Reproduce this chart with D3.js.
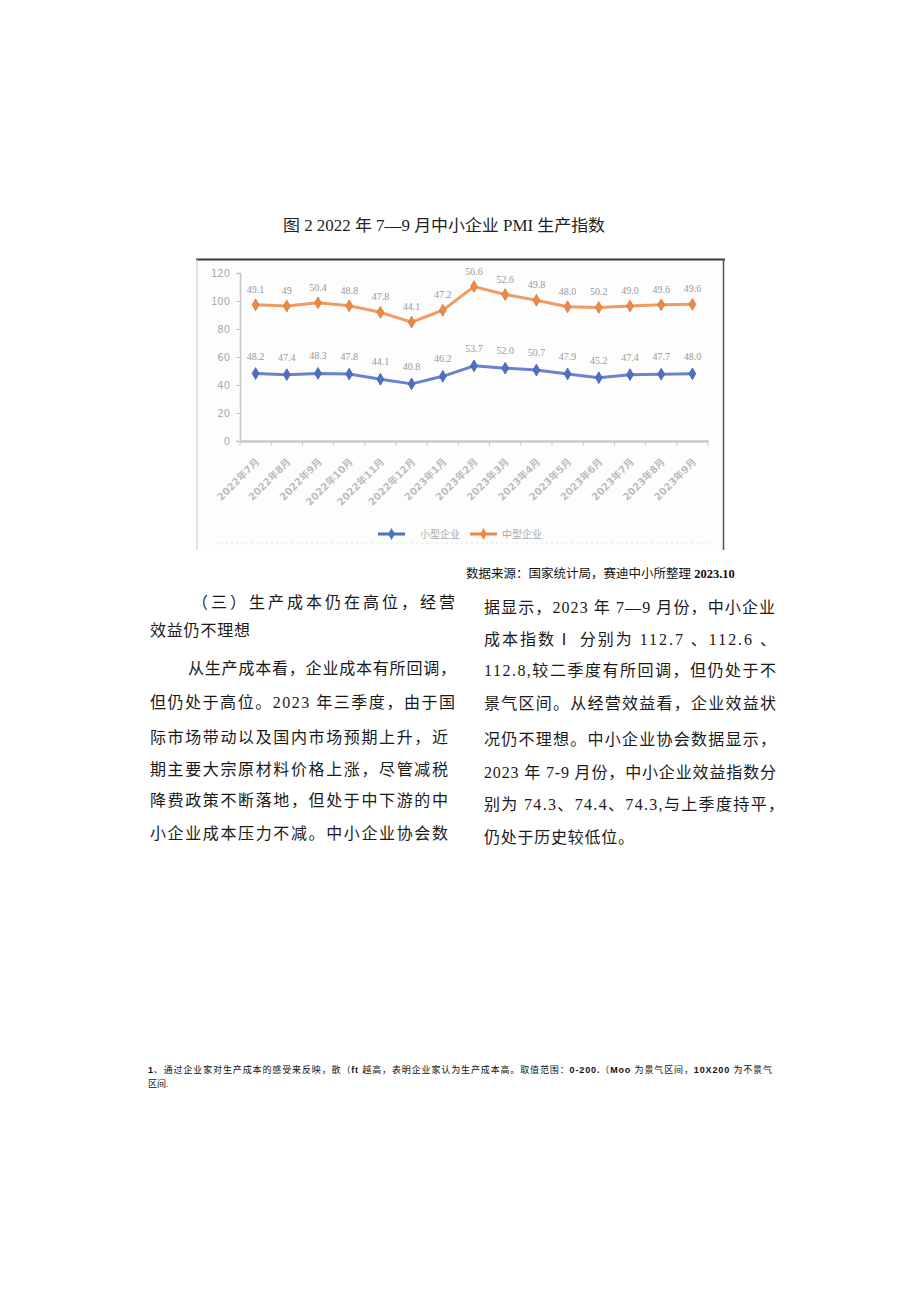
<!DOCTYPE html>
<html>
<head>
<meta charset="utf-8">
<script src="https://cdn.jsdelivr.net/npm/d3@7"></script>
<style>
  html, body { margin: 0; padding: 0; background: #fff; }
  svg text { font-family: "Liberation Serif", "Noto Sans CJK SC", serif; }
</style>
</head>
<body>
<div id="page"></div>
<script>
// chart data
const categories = ["2022年7月", "2022年8月", "2022年9月", "2022年10月", "2022年11月", "2022年12月",
  "2023年1月", "2023年2月", "2023年3月", "2023年4月", "2023年5月", "2023年6月",
  "2023年7月", "2023年8月", "2023年9月"];
const smallVals = [48.2, 47.4, 48.3, 47.8, 44.1, 40.8, 46.2, 53.7, 52.0, 50.7, 47.9, 45.2, 47.4, 47.7, 48.0];
const mediumVals = [49.1, 49, 50.4, 48.8, 47.8, 44.1, 47.2, 56.6, 52.6, 49.8, 48.0, 50.2, 49.0, 49.6, 49.6];
const smallLabels = ["48.2", "47.4", "48.3", "47.8", "44.1", "40.8", "46.2", "53.7", "52.0", "50.7", "47.9", "45.2", "47.4", "47.7", "48.0"];
const mediumLabels = ["49.1", "49", "50.4", "48.8", "47.8", "44.1", "47.2", "56.6", "52.6", "49.8", "48.0", "50.2", "49.0", "49.6", "49.6"];
const yTicks = [0, 20, 40, 60, 80, 100, 120];
const seriesNames = ["小型企业", "中型企业"];

// page text
const title = "图 2 2022 年 7—9 月中小企业 PMI 生产指数";
const leftLines = [
  { t: "（三）生产成本仍在高位，经营", x: 192, y: 608, w: 263 },
  { t: "效益仍不理想", x: 150, y: 636, w: 100 },
  { t: "从生产成本看，企业成本有所回调，", x: 188, y: 674, w: 268 },
  { t: "但仍处于高位。2023 年三季度，由于国", x: 150, y: 708, w: 305 },
  { t: "际市场带动以及国内市场预期上升，近", x: 150, y: 743, w: 298 },
  { t: "期主要大宗原材料价格上涨，尽管减税", x: 150, y: 775, w: 298 },
  { t: "降费政策不断落地，但处于中下游的中", x: 150, y: 806, w: 298 },
  { t: "小企业成本压力不减。中小企业协会数", x: 150, y: 839, w: 298 }
];
const rightLines = [
  { t: "据显示，2023 年 7—9 月份，中小企业", x: 484, y: 613, w: 291 },
  { t: "成本指数Ⅰ  分别为 112.7 、112.6 、", x: 484, y: 645, w: 292 },
  { t: "112.8,较二季度有所回调，但仍处于不", x: 484, y: 676, w: 292 },
  { t: "景气区间。从经营效益看，企业效益状", x: 484, y: 709, w: 292 },
  { t: "况仍不理想。中小企业协会数据显示，", x: 484, y: 745, w: 292 },
  { t: "2023 年 7-9 月份，中小企业效益指数分", x: 484, y: 778, w: 292 },
  { t: "别为 74.3、74.4、74.3,与上季度持平，", x: 484, y: 810, w: 300 },
  { t: "仍处于历史较低位。", x: 484, y: 843, w: 150 }
];

const W = 920, H = 1301;
const svg = d3.select("#page").append("svg").attr("width", W).attr("height", H);

// title
svg.append("text").attr("x", 283).attr("y", 231)
  .attr("textLength", 322).attr("lengthAdjust", "spacingAndGlyphs")
  .style("font-size", "16px").style("fill", "#222").text(title);

// chart frame
const frame = svg.append("g");
frame.append("rect").attr("x", 196).attr("y", 259).attr("width", 528).attr("height", 291)
  .attr("fill", "#fdfdfd").attr("stroke", "none");
frame.append("line").attr("x1", 196).attr("x2", 725).attr("y1", 259.5).attr("y2", 259.5)
  .attr("stroke", "#3a3a3a").attr("stroke-width", 2);
frame.append("line").attr("x1", 723.5).attr("x2", 723.5).attr("y1", 259).attr("y2", 550)
  .attr("stroke", "#555").attr("stroke-width", 1.5);
frame.append("line").attr("x1", 197).attr("x2", 197).attr("y1", 259).attr("y2", 550)
  .attr("stroke", "#c8c8c8").attr("stroke-width", 1);
frame.append("line").attr("x1", 216).attr("x2", 710).attr("y1", 543).attr("y2", 543)
  .attr("stroke", "#e4e4e4").attr("stroke-width", 1).attr("stroke-dasharray", "2,3");

const x = d3.scaleBand().domain(categories).range([240, 708]);
const y = d3.scaleLinear().domain([0, 120]).range([441, 273]);
const cx = d => x(d) + x.bandwidth() / 2;

// axes
const yAxis = svg.append("g").attr("transform", "translate(240,0)")
  .call(d3.axisLeft(y).tickValues(yTicks).tickSize(4).tickPadding(6));
yAxis.select(".domain").attr("stroke", "#c4c4c4").attr("stroke-width", 1.5);
yAxis.selectAll(".tick line").attr("stroke", "#c4c4c4");
yAxis.selectAll("text").style("font-size", "10px").style("fill", "#aaa")
  .style("font-family", "'DejaVu Sans', sans-serif");

const xAxis = svg.append("g").attr("transform", "translate(0,441)")
  .call(d3.axisBottom(x).tickSize(0).tickPadding(0));
xAxis.select(".domain").attr("stroke", "#c8c8c8").attr("stroke-width", 2.5);
xAxis.selectAll(".tick text")
  .attr("text-anchor", "end")
  .attr("dy", "0.35em")
  .attr("transform", "translate(2,19) rotate(-45)")
  .style("font-size", "10px").style("font-weight", "bold").style("fill", "#bdbdbd")
  .style("font-family", "'DejaVu Sans', 'Noto Sans CJK SC', sans-serif");
svg.append("g").selectAll("line")
  .data(categories.concat(["end"]))
  .join("line")
  .attr("x1", (d, i) => 240 + i * x.step()).attr("x2", (d, i) => 240 + i * x.step())
  .attr("y1", 441).attr("y2", 446)
  .attr("stroke", "#c8c8c8").attr("stroke-width", 1);

// stacked series
const rows = categories.map((c, i) => ({ cat: c, small: smallVals[i], medium: mediumVals[i] }));
const stacked = d3.stack().keys(["small", "medium"])(rows);
const colors = ["#4f6fc4", "#ec8a45"];
const labelSets = [smallLabels, mediumLabels];
const line = d3.line().x(d => cx(d.data.cat)).y(d => y(d[1]));
const diamond = d3.symbol().type(d3.symbolDiamond).size(40);

stacked.forEach((s, k) => {
  const g = svg.append("g");
  g.append("path").datum(s).attr("d", line)
    .attr("fill", "none").attr("stroke", colors[k]).attr("stroke-width", 3)
    .attr("stroke-opacity", 0.85).attr("stroke-linejoin", "round");
  g.selectAll("path.m").data(s).join("path").attr("class", "m")
    .attr("d", diamond)
    .attr("transform", d => `translate(${cx(d.data.cat)},${y(d[1])})`)
    .attr("fill", colors[k]).attr("stroke", d3.color(colors[k]).darker(0.4)).attr("stroke-width", 0.8);
  g.selectAll("text").data(s).join("text")
    .attr("x", d => cx(d.data.cat))
    .attr("y", d => y(d[1]) - (k === 0 ? 14 : 12))
    .attr("text-anchor", "middle")
    .style("font-size", "10px").style("fill", "#999")
    .text((d, i) => labelSets[k][i]);
});

// legend
const legendX = [378, 470];
seriesNames.forEach((name, k) => {
  const lg = svg.append("g").attr("transform", `translate(${legendX[k]},534)`);
  lg.append("line").attr("x1", 0).attr("x2", 27).attr("stroke", colors[k]).attr("stroke-width", 3);
  lg.append("path").attr("d", diamond).attr("transform", "translate(13.5,0)").attr("fill", colors[k]);
  lg.append("text").attr("x", k === 0 ? 42 : 32).attr("y", 4)
    .style("font-size", "10px").style("fill", "#aaa")
    .style("font-family", "'Noto Sans CJK SC', sans-serif").text(name);
});

// source line
const src = svg.append("text").attr("x", 466).attr("y", 578)
  .style("font-size", "12.5px").style("fill", "#111");
src.append("tspan").text("数据来源：国家统计局，赛迪中小所整理 ");
src.append("tspan").style("font-weight", "bold").text("2023.10");

// body text
svg.append("g").selectAll("text").data(leftLines.concat(rightLines)).join("text")
  .attr("x", d => d.x).attr("y", d => d.y)
  .attr("textLength", d => d.w).attr("lengthAdjust", "spacing")
  .style("font-size", "16px").style("fill", "#1a1a1a")
  .text(d => d.t);

// footnote
const fn = svg.append("g").style("font-size", "9px").style("fill", "#111");
const f1 = fn.append("text").attr("x", 148).attr("y", 1073)
  .attr("textLength", 624).attr("lengthAdjust", "spacing");
f1.append("tspan").style("font-weight", "bold").style("font-family", "'Liberation Sans', sans-serif").text("1");
f1.append("tspan").text("、通过企业家对生产成本的感受来反映，散（");
f1.append("tspan").style("font-weight", "bold").style("font-family", "'Liberation Sans', sans-serif").text("ft ");
f1.append("tspan").text("越高，表明企业家认为生产成本高。取值范围：");
f1.append("tspan").style("font-weight", "bold").style("font-family", "'Liberation Sans', sans-serif").text("0-200.");
f1.append("tspan").text("（");
f1.append("tspan").style("font-weight", "bold").style("font-family", "'Liberation Sans', sans-serif").text("Moo ");
f1.append("tspan").text("为景气区间，");
f1.append("tspan").style("font-weight", "bold").style("font-family", "'Liberation Sans', sans-serif").text("10X200 ");
f1.append("tspan").text("为不景气");
fn.append("text").attr("x", 148).attr("y", 1087).text("区间.");
</script>
</body>
</html>
